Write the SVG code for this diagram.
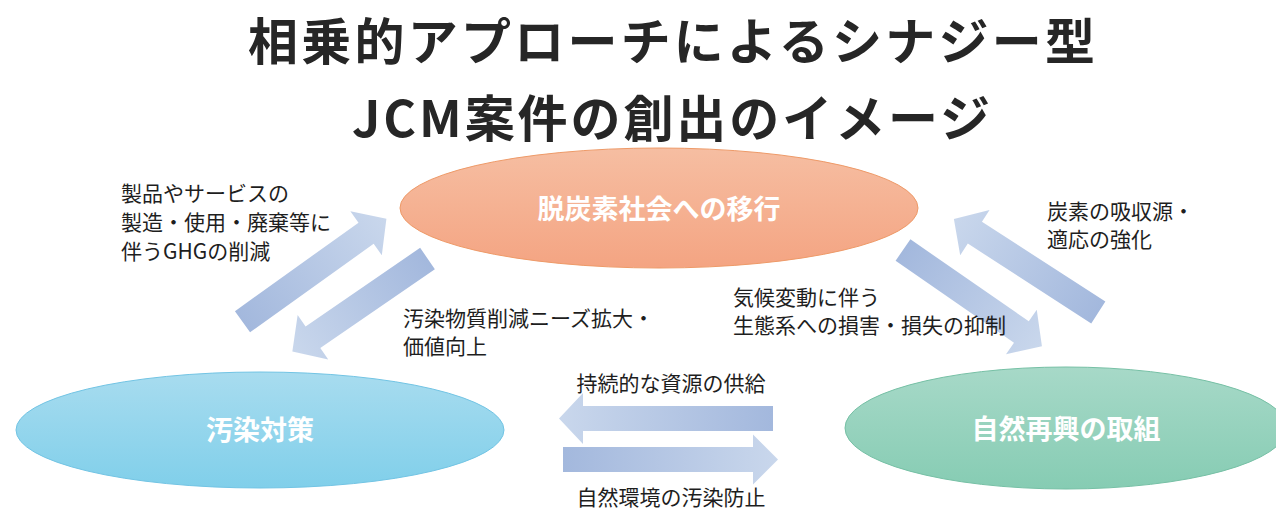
<svg xmlns="http://www.w3.org/2000/svg" width="1276" height="510" viewBox="0 0 1276 510">
<style>
.title{font-family:"Noto Sans CJK JP","Noto Sans",sans-serif;font-weight:700;font-size:50px;fill:#262626}
.lbl{font-family:"Noto Sans CJK JP","Noto Sans",sans-serif;font-size:21px;fill:#1e1e1e}
.node{font-family:"Noto Sans CJK JP","Noto Sans",sans-serif;font-weight:700;font-size:27px;fill:#ffffff;text-anchor:middle}
.arr{fill:url(#ga)}
</style>
<defs>
<linearGradient id="ga" x1="0" y1="0" x2="1" y2="0">
<stop offset="0" stop-color="#A3B8DD"/>
<stop offset="1" stop-color="#C9D7EC"/>
</linearGradient>
<linearGradient id="gL" gradientUnits="userSpaceOnUse" x1="773" y1="0" x2="559" y2="0">
<stop offset="0" stop-color="#A3B8DD"/>
<stop offset="1" stop-color="#C9D7EC"/>
</linearGradient>
<linearGradient id="gR" gradientUnits="userSpaceOnUse" x1="563" y1="0" x2="778" y2="0">
<stop offset="0" stop-color="#A3B8DD"/>
<stop offset="1" stop-color="#C9D7EC"/>
</linearGradient>
<linearGradient id="gTop" x1="0" y1="0" x2="0" y2="1">
<stop offset="0" stop-color="#F6BEA2"/>
<stop offset="1" stop-color="#F4A482"/>
</linearGradient>
<linearGradient id="gLeft" x1="0" y1="0" x2="0" y2="1">
<stop offset="0" stop-color="#A8DCEF"/>
<stop offset="1" stop-color="#80CFEA"/>
</linearGradient>
<linearGradient id="gRight" x1="0" y1="0" x2="0" y2="1">
<stop offset="0" stop-color="#A7D9C8"/>
<stop offset="1" stop-color="#86CCB3"/>
</linearGradient>
</defs>
<rect width="1276" height="510" fill="#ffffff"/>

<g id="title">
<text class="title" x="248" y="60" textLength="847" lengthAdjust="spacing">相乗的アプローチによるシナジー型</text>
<text class="title" x="352" y="137" textLength="638" lengthAdjust="spacing">JCM案件の創出のイメージ</text>
</g>

<g id="connectors">
<path class="arr" transform="translate(242.5,321.7) rotate(-35.6)" d="M0,-13 L152,-13 L152,-27 L177,0 L152,27 L152,13 L0,13 Z"/>
<path class="arr" transform="translate(427.5,258.5) rotate(145.5)" d="M0,-13 L139,-13 L139,-27 L164,0 L139,27 L139,13 L0,13 Z"/>
<path class="arr" transform="translate(903,250) rotate(34.7)" d="M0,-13 L144,-13 L144,-27 L169,0 L144,27 L144,13 L0,13 Z"/>
<path class="arr" transform="translate(1098.3,312.5) rotate(-147.1)" d="M0,-13 L147,-13 L147,-27 L172,0 L147,27 L147,13 L0,13 Z"/>
<path fill="url(#gL)" d="M773,406 L583,406 L583,393 L559,418.5 L583,444 L583,431 L773,431 Z"/>
<path fill="url(#gR)" d="M563,447 L753,447 L753,434.5 L778,459.5 L753,484.5 L753,472 L563,472 Z"/>
</g>

<g id="node-decarbon">
<ellipse cx="659" cy="208" rx="259" ry="60" fill="url(#gTop)" stroke="#EE9A68" stroke-width="1"/>
<text class="node" x="659" y="219">脱炭素社会への移行</text>
</g>
<g id="node-pollution">
<ellipse cx="260" cy="430" rx="244" ry="58" fill="url(#gLeft)" stroke="#72C4E4" stroke-width="1"/>
<text class="node" x="260" y="440">汚染対策</text>
</g>
<g id="node-nature">
<ellipse cx="1066" cy="428" rx="221" ry="61" fill="url(#gRight)" stroke="#76C0A5" stroke-width="1"/>
<text class="node" x="1066" y="439">自然再興の取組</text>
</g>

<g id="labels">
<text class="lbl" x="121" y="201">製品やサービスの</text>
<text class="lbl" x="121" y="230">製造・使用・廃棄等に</text>
<text class="lbl" x="121" y="259">伴うGHGの削減</text>
<text class="lbl" x="403" y="326">汚染物質削減ニーズ拡大・</text>
<text class="lbl" x="403" y="354">価値向上</text>
<text class="lbl" x="733" y="305">気候変動に伴う</text>
<text class="lbl" x="733" y="333">生態系への損害・損失の抑制</text>
<text class="lbl" x="1047" y="219">炭素の吸収源・</text>
<text class="lbl" x="1047" y="247">適応の強化</text>
<text class="lbl" x="671" y="391" text-anchor="middle">持続的な資源の供給</text>
<text class="lbl" x="671" y="505" text-anchor="middle">自然環境の汚染防止</text>
</g>
</svg>
